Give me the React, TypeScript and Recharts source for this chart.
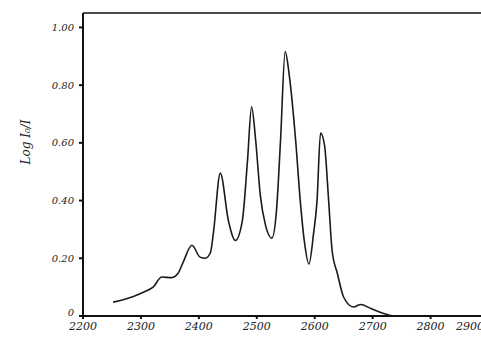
import { CartesianGrid, Line, LineChart, ReferenceLine, XAxis, YAxis } from "recharts";

// wavelength (x) and absorbance log(I0/I)
const WAVELENGTH = [
  2252, 2287, 2307, 2321, 2336, 2353, 2364, 2373, 2388, 2402, 2411, 2420, 2425, 2437,
  2451, 2463, 2475, 2484, 2491, 2498, 2506, 2515, 2526, 2534, 2541, 2549, 2556, 2567,
  2575, 2582, 2590, 2598, 2604, 2610, 2617, 2624, 2630, 2639, 2650, 2667, 2679, 2697,
  2719, 2736, 2780, 2850,
];
const LOG_I0_I = [
  0.048, 0.068, 0.085, 0.1, 0.135, 0.133, 0.148, 0.187, 0.245, 0.204, 0.2, 0.22, 0.286, 0.495,
  0.33, 0.262, 0.33, 0.54, 0.725, 0.61, 0.42, 0.315, 0.27, 0.366, 0.61, 0.916, 0.835, 0.61,
  0.4, 0.26, 0.18, 0.286, 0.4, 0.634, 0.59, 0.4, 0.227, 0.148, 0.065, 0.031, 0.04, 0.026,
  0.009, 0.0, 0.0, 0.0,
];
const X_TICKS = [2200, 2300, 2400, 2500, 2600, 2700, 2800, 2900];
const Y_TICKS = [0, 0.2, 0.4, 0.6, 0.8, 1.0];

const data = WAVELENGTH.map((w, i) => ({ w, a: LOG_I0_I[i] }));

const FONT = "'DejaVu Serif', serif";

// y labels; the "0" sits a little higher so it clears "2200"
function YTick(props: any) {
  const { x, y, payload } = props;
  const v = payload.value as number;
  return (
    <text
      x={x - 3}
      y={y + (v === 0 ? -4 : 0)}
      dy="0.355em"
      textAnchor="end"
      fontSize={10}
      fill="#222"
      fontFamily={FONT}
      fontStyle="italic"
    >
      {v === 0 ? "0" : v.toFixed(2)}
    </text>
  );
}

export default function App() {
  return (
    <div style={{ position: "absolute", left: 0, top: 0, background: "#fff" }}>
      <LineChart
        width={481}
        height={345}
        data={data}
        margin={{ top: 13, right: 0, bottom: 5, left: 0 }}
      >
        <CartesianGrid stroke="none" />
        <XAxis
          type="number"
          dataKey="w"
          domain={[2200, 2887]}
          ticks={X_TICKS}
          allowDataOverflow
          height={24}
          stroke="#111"
          strokeWidth={2}
          tickSize={3}
          tickMargin={3}
          tick={{ fontSize: 11, fill: "#222", fontFamily: FONT, fontStyle: "italic" }}
          tickFormatter={(v: number) => String(v)}
        />
        <YAxis
          type="number"
          domain={[0, 1.05]}
          ticks={Y_TICKS}
          width={83}
          stroke="#111"
          strokeWidth={2}
          tickSize={4}
          tick={<YTick />}
          label={{
            value: "Log I₀/I",
            angle: -90,
            position: "insideLeft",
            offset: 26,
            fontSize: 12,
            fill: "#222",
            fontFamily: FONT,
            fontStyle: "italic",
          }}
        />
        <ReferenceLine y={1.05} stroke="#111" strokeWidth={1.5} />
        <Line
          type="monotone"
          dataKey="a"
          stroke="#1a1a1a"
          strokeWidth={1.6}
          dot={false}
          isAnimationActive={false}
        />
      </LineChart>
    </div>
  );
}
